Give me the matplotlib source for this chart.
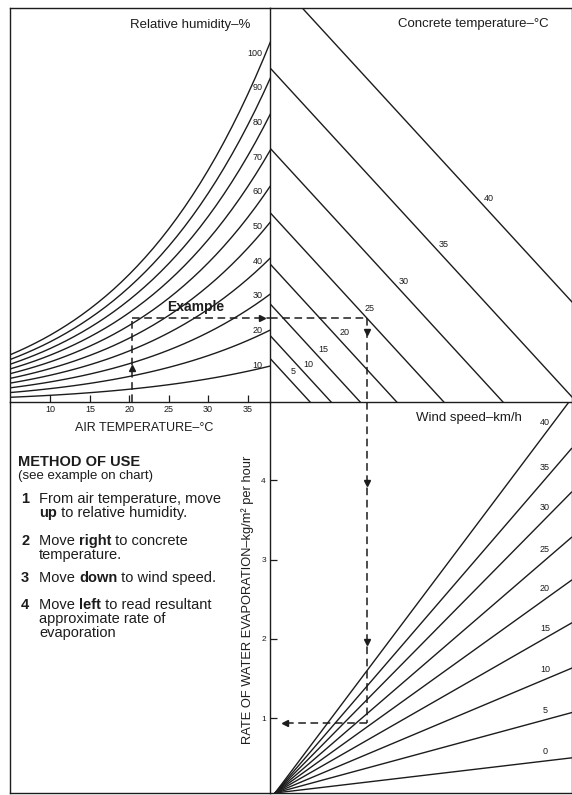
import numpy as np
import matplotlib
matplotlib.use("Agg")
import matplotlib.pyplot as plt

plt.rcParams['font.family'] = ['Liberation Sans', 'DejaVu Sans']

# ---------------- data ----------------
AIR_T = [4, 5, 6, 7, 8, 9, 10, 11, 12, 13, 14, 15, 16, 17, 18, 19, 20, 21,
         22, 23, 24, 25, 26, 27, 28, 29, 30, 31, 32, 33, 34, 35, 36, 37, 38]
SAT_VP = [0.813, 0.872, 0.935, 1.002, 1.073, 1.148, 1.228, 1.313, 1.403,
          1.498, 1.599, 1.706, 1.819, 1.938, 2.064, 2.198, 2.339, 2.488,
          2.645, 2.810, 2.985, 3.169, 3.363, 3.567, 3.782, 4.008, 4.246,
          4.495, 4.758, 5.034, 5.323, 5.627, 5.945, 6.280, 6.630]
RH_LEVELS = [10, 20, 30, 40, 50, 60, 70, 80, 90, 100]
AIR_TICKS = [10, 15, 20, 25, 30, 35]

CONC_T = [5, 10, 15, 20, 25, 30, 35, 40]
CONC_START = [0.80, 1.22, 1.80, 2.53, 3.47, 4.65, 6.12, 7.86]
CONC_LABEL_D = [0.44, 0.74, 1.04, 1.46, 1.96, 2.65, 3.43, 4.33]

WIND = [0, 5, 10, 15, 20, 25, 30, 35, 40]
WIND_EDGE_RATE = [0.50, 1.07, 1.63, 2.20, 2.74, 3.28, 3.85, 4.40, 5.03]
FAN_ORIGIN = (0.10, 0.057)
RATE_TICKS = [1, 2, 3, 4]

EX_AIR_T = 20.3
EX_VP = 1.53
EX_DRIVE = 1.94
EX_RATE = 0.94

# ---------------- layout ----------------
W, H = 572, 795
T_LIM = (4.8, 37.85)
VP_LIM = (0.0, 7.216)
D_LIM = (0.0, 6.018)
E_LIM = (0.057, 4.987)

INK = '#1c1c1c'
LW = 1.0

fig = plt.figure(figsize=(W / 100, H / 100), dpi=100)
fig.patch.set_facecolor('white')


def rect(x0, y0, x1, y1):
    return [x0 / W, 1 - y1 / H, (x1 - x0) / W, (y1 - y0) / H]


def fx(x):
    return x / W


def fy(y):
    return 1 - y / H


XC = 270
ax1 = fig.add_axes(rect(9.5, 8, XC, 402))
ax2 = fig.add_axes(rect(XC, 8, 571.5, 402))
ax3 = fig.add_axes(rect(XC, 402, 571.5, 793))
ax4 = fig.add_axes(rect(9.5, 402, XC, 793))

for ax in (ax1, ax2, ax3, ax4):
    ax.set_facecolor('none')
    for s in ax.spines.values():
        s.set_linewidth(LW)
        s.set_color(INK)
    ax.set_xticks([])
    ax.set_yticks([])

ax2.spines['left'].set_visible(False)
ax3.spines['top'].set_visible(False)
ax4.spines['top'].set_visible(False)
ax4.spines['right'].set_visible(False)

SMALL = 6.5

# ---------------- top-left: relative humidity curves ----------------
ax1.set_xlim(*T_LIM)
ax1.set_ylim(*VP_LIM)
sat = np.array(SAT_VP)
for rh in RH_LEVELS:
    ax1.plot(AIR_T, sat * rh / 100.0, color=INK, lw=LW, solid_capstyle='butt')
t_lab = 37.2
sat_lab = np.interp(t_lab, AIR_T, SAT_VP)
for rh in RH_LEVELS:
    ax1.annotate(str(rh), xy=(t_lab, sat_lab * rh / 100.0), xytext=(-1.5, 1.5),
                 textcoords='offset points', ha='right', va='center',
                 fontsize=SMALL, color=INK)
ax1.set_xticks(AIR_TICKS)
ax1.set_xticklabels([str(t) for t in AIR_TICKS])
ax1.tick_params(axis='x', direction='in', length=5, width=0.9, color=INK,
                labelsize=SMALL, pad=2.5, labelcolor=INK)

# ---------------- top-right: concrete temperature lines ----------------
ax2.set_xlim(*D_LIM)
ax2.set_ylim(*VP_LIM)
for tc, s0 in zip(CONC_T, CONC_START):
    ax2.plot([0, s0], [s0, 0], color=INK, lw=LW)
for tc, s0, dl in zip(CONC_T, CONC_START, CONC_LABEL_D):
    ax2.annotate(str(tc), xy=(dl, s0 - dl), xytext=(1, 8),
                 textcoords='offset points', ha='center', va='center',
                 fontsize=SMALL, color=INK)

# ---------------- bottom-right: wind speed fan ----------------
ax3.set_xlim(*D_LIM)
ax3.set_ylim(*E_LIM)
d0, e0 = FAN_ORIGIN
dr = D_LIM[1]
for v, er in zip(WIND, WIND_EDGE_RATE):
    ax3.plot([d0, dr], [e0, er], color=INK, lw=LW)
d_lab = 5.53
for v, er in zip(WIND, WIND_EDGE_RATE):
    e_lab = e0 + (er - e0) * (d_lab - d0) / (dr - d0)
    ax3.annotate(str(v), xy=(d_lab, e_lab), xytext=(-1.5, 6.5),
                 textcoords='offset points', ha='center', va='center',
                 fontsize=SMALL, color=INK)
ax3.set_yticks(RATE_TICKS)
ax3.set_yticklabels([str(r) for r in RATE_TICKS])
ax3.tick_params(axis='y', direction='in', length=5, width=0.9, color=INK,
                labelsize=SMALL - 0.5, pad=3, labelcolor=INK)

# ---------------- worked example (dashed path) ----------------
dash = dict(color=INK, lw=1.1, linestyle=(0, (5, 3)))
ax1.plot([EX_AIR_T, EX_AIR_T], [0, EX_VP], **dash)
ax1.plot([EX_AIR_T, T_LIM[1]], [EX_VP, EX_VP], **dash)
ax2.plot([0, EX_DRIVE], [EX_VP, EX_VP], **dash)
ax2.plot([EX_DRIVE, EX_DRIVE], [EX_VP, 0], **dash)
ax3.plot([EX_DRIVE, EX_DRIVE], [E_LIM[1], EX_RATE], **dash)
ax3.plot([EX_DRIVE, 0.27], [EX_RATE, EX_RATE], **dash)

mk = dict(color=INK, ms=5, lw=0, clip_on=False)
ax1.plot([EX_AIR_T], [0.62], marker='^', **mk)
ax1.plot([36.85], [EX_VP], marker='>', **mk)
ax2.plot([EX_DRIVE], [1.28], marker='v', **mk)
ax3.plot([EX_DRIVE, EX_DRIVE], [3.97, 1.96], marker='v', **mk)
ax3.plot([0.30], [EX_RATE], marker='<', **mk)

# ---------------- titles and labels ----------------
fig.text(fx(250), fy(25), 'Relative humidity–%', ha='right', va='center',
         fontsize=9.5, color=INK)
fig.text(fx(549), fy(24), 'Concrete temperature–°C', ha='right', va='center',
         fontsize=9.5, color=INK)
fig.text(fx(522), fy(418), 'Wind speed–km/h', ha='right', va='center',
         fontsize=9.5, color=INK)
fig.text(fx(167), fy(307), 'Example', ha='left', va='center',
         fontsize=10, weight='bold', color=INK)
fig.text(fx(144), fy(428), 'AIR TEMPERATURE–°C', ha='center', va='center',
         fontsize=9, color=INK)
fig.text(fx(248), fy(600), 'RATE OF WATER EVAPORATION–kg/m² per hour',
         rotation=90, ha='center', va='center', fontsize=9.3, color=INK)

# ---------------- method of use ----------------
BODY = 10.5


def rich(x, y, parts, size=BODY):
    txt, bold = parts[0]
    t = ax4.text(fx(x), fy(y), txt, transform=fig.transFigure, ha='left',
                 va='center', fontsize=size, color=INK,
                 weight='bold' if bold else 'normal')
    for txt, bold in parts[1:]:
        t = ax4.annotate(txt, xy=(1, 0), xycoords=t, ha='left', va='bottom',
                         fontsize=size, color=INK, annotation_clip=False,
                         weight='bold' if bold else 'normal')
    return t


TX_NUM = 21
TX_BODY = 39
ax4.text(fx(18), fy(462), 'METHOD OF USE', transform=fig.transFigure,
         ha='left', va='center', fontsize=10.5, weight='bold', color=INK)
ax4.text(fx(18), fy(476), '(see example on chart)', transform=fig.transFigure,
         ha='left', va='center', fontsize=9.5, color=INK)

steps = [
    ('1', 499, [[('From air temperature, move', False)],
                [('up', True), (' to relative humidity.', False)]]),
    ('2', 541, [[('Move ', False), ('right', True), (' to concrete', False)],
                [('temperature.', False)]]),
    ('3', 578, [[('Move ', False), ('down', True), (' to wind speed.', False)]]),
    ('4', 605, [[('Move ', False), ('left', True), (' to read resultant', False)],
                [('approximate rate of', False)],
                [('evaporation', False)]]),
]
for num, y0, lines in steps:
    ax4.text(fx(TX_NUM), fy(y0), num, transform=fig.transFigure, ha='left',
             va='center', fontsize=BODY, weight='bold', color=INK)
    for i, parts in enumerate(lines):
        rich(TX_BODY, y0 + 14.2 * i, parts)

fig.savefig('out.png', dpi=100, facecolor='white')
